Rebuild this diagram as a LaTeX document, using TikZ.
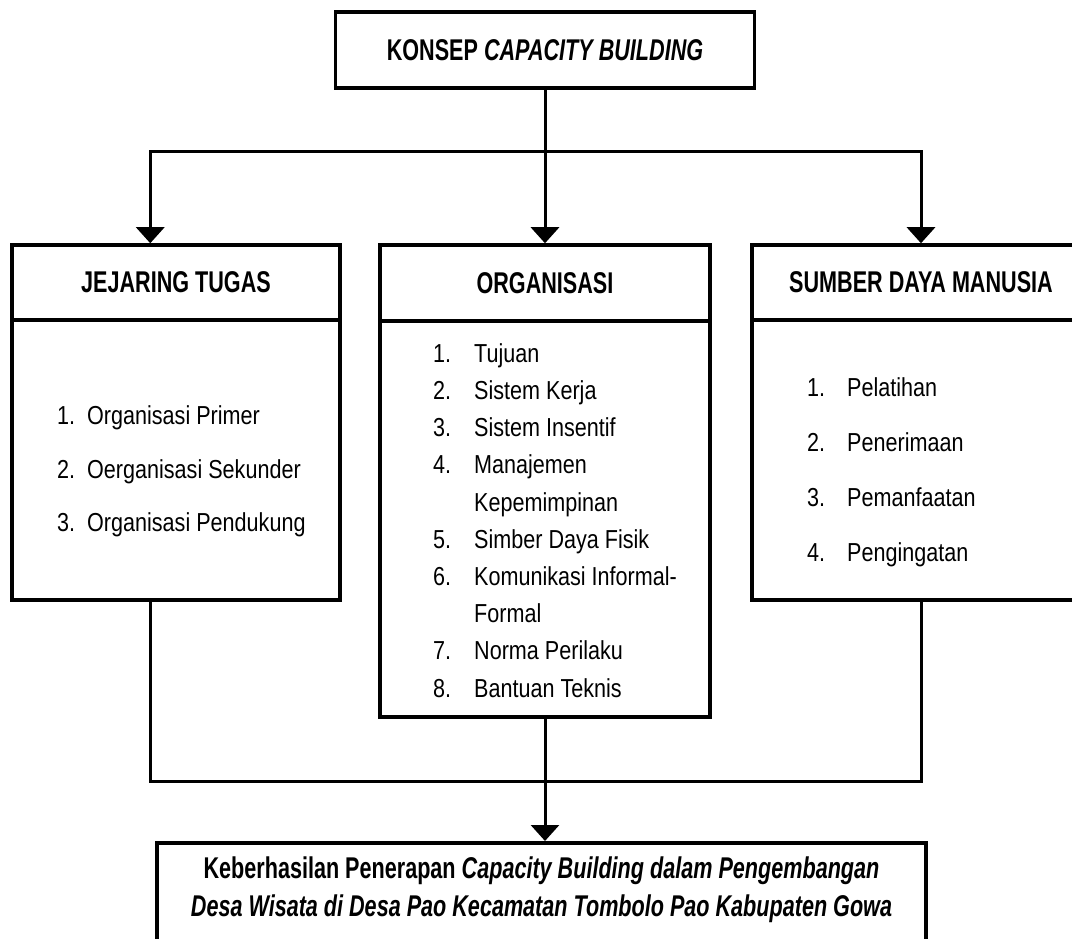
\documentclass[tikz,border=0pt]{standalone}
\usepackage{fontspec}
\setmainfont{Liberation Sans}[FakeStretch=0.83]
\newfontfamily\narrowbold{Liberation Sans}[FakeStretch=0.72]
\usetikzlibrary{calc,arrows.meta,positioning}
\tikzset{
    box/.style={draw, line width=3.5pt, inner sep=0pt, font=\fontsize{30}{38}\selectfont\narrowbold\bfseries},
    conn/.style={line width=3pt},
    arr/.style={conn, -{Triangle[width=28pt,length=16pt]}},
    itemlist/.style={align=left, inner sep=0pt, anchor=west}
}

\begin{document}
\begin{tikzpicture}[x=1pt,y=-1pt]
\clip (0,0) rectangle (1072,939);
\fill[white] (0,0) rectangle (1072,939);

\node[box, minimum width=419pt, minimum height=76pt] (konsep) at (545,50) {KONSEP \textit{CAPACITY BUILDING}};

\node[box, minimum width=328pt, minimum height=75pt] (jhead) at (176,282.5) {JEJARING TUGAS};
\node[box, minimum width=328pt, minimum height=280pt] (jbody) at (176,460) {};

\node[box, minimum width=330pt, minimum height=76pt] (ohead) at (545,283) {ORGANISASI};
\node[box, minimum width=330pt, minimum height=396pt] (obody) at (545,519) {};

\node[box, minimum width=338pt, minimum height=75pt] (shead) at (921,282.5) {SUMBER DAYA MANUSIA};
\node[box, minimum width=338pt, minimum height=280pt] (sbody) at (921,460) {};

\node[box, minimum width=769pt, minimum height=130pt, anchor=north] (hasil) at (541.5,841) {};

\node[itemlist, font=\fontsize{26}{53.5}\selectfont] (jlist) at (57,471.5) {%
\makebox[30pt][l]{1.}Organisasi Primer\\
\makebox[30pt][l]{2.}Oerganisasi Sekunder\\
\makebox[30pt][l]{3.}Organisasi Pendukung};

\node[itemlist, font=\fontsize{26}{37.2}\selectfont] (olist) at (433,520.5) {%
\makebox[41pt][l]{1.}Tujuan\\
\makebox[41pt][l]{2.}Sistem Kerja\\
\makebox[41pt][l]{3.}Sistem Insentif\\
\makebox[41pt][l]{4.}Manajemen\\
\hspace*{41pt}Kepemimpinan\\
\makebox[41pt][l]{5.}Simber Daya Fisik\\
\makebox[41pt][l]{6.}Komunikasi Informal-\\
\hspace*{41pt}Formal\\
\makebox[41pt][l]{7.}Norma Perilaku\\
\makebox[41pt][l]{8.}Bantuan Teknis};

\node[itemlist, font=\fontsize{26}{55}\selectfont] (slist) at (807,472.5) {%
\makebox[40pt][l]{1.}Pelatihan\\
\makebox[40pt][l]{2.}Penerimaan\\
\makebox[40pt][l]{3.}Pemanfaatan\\
\makebox[40pt][l]{4.}Pengingatan};

\node[align=center, inner sep=0pt, font=\fontsize{30}{38}\selectfont\narrowbold\bfseries] (hasiltxt) at (541.5,890) {Keberhasilan Penerapan \textit{Capacity Building dalam Pengembangan}\\
\textit{Desa Wisata di Desa Pao Kecamatan Tombolo Pao Kabupaten Gowa}};

\coordinate (split) at ($(konsep.south)+(0,62)$);
\coordinate (join) at ($(obody.south)+(0,63)$);

\draw[conn] (konsep.south) -- (split);
\draw[arr] (split) -| ($(jhead.north west)+(140,0)$);
\draw[arr] (split) -- (ohead.north);
\draw[arr] (split) -| (shead.north);

\draw[conn] ($(jbody.south west)+(140,0)$) |- (join) -| (sbody.south);
\draw[arr] (obody.south) -- (obody.south |- hasil.north);
\end{tikzpicture}
\end{document}
